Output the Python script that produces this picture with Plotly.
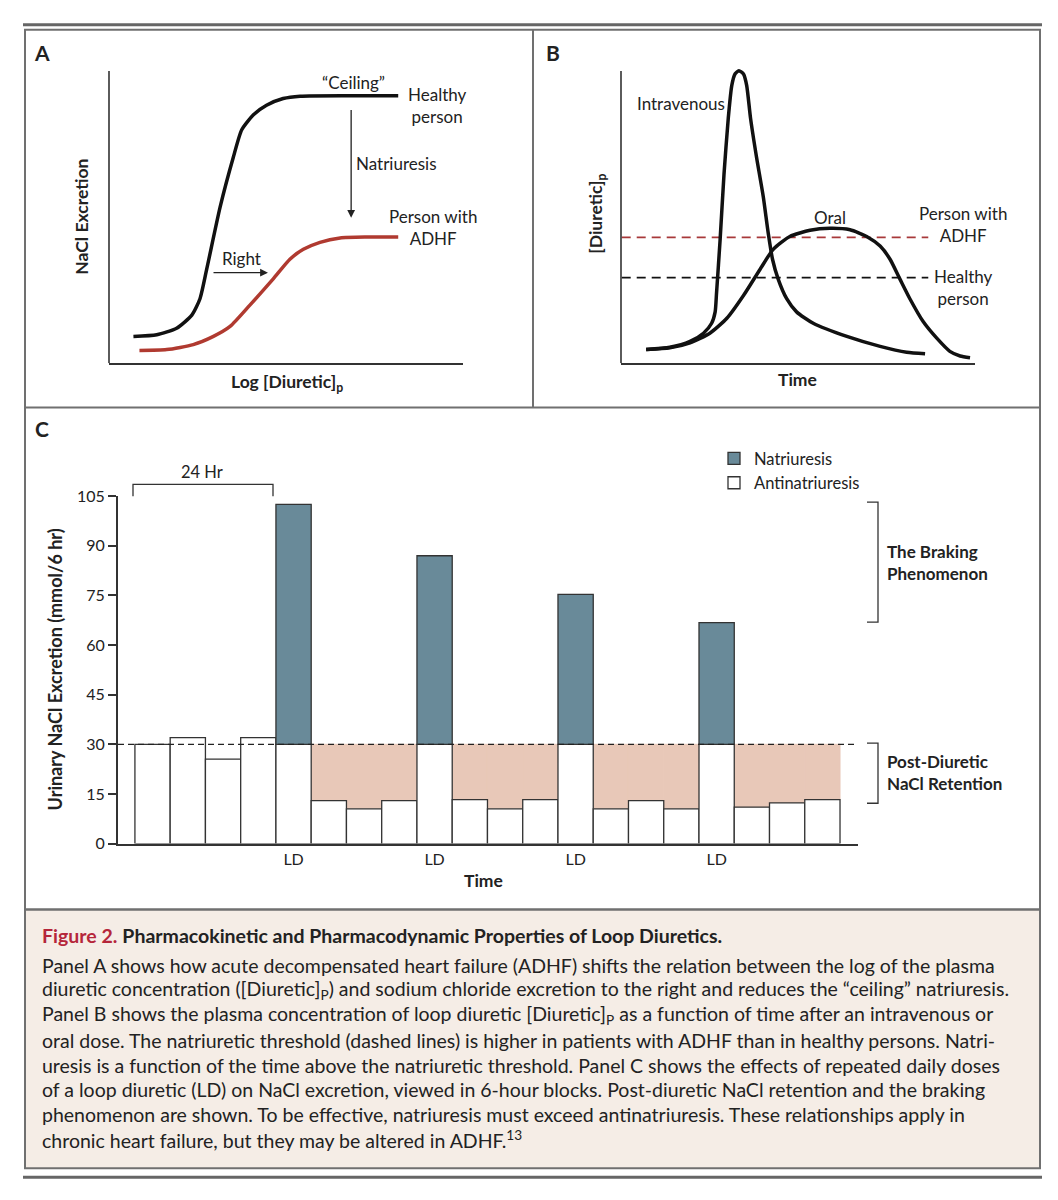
import plotly.graph_objects as go

W, H = 1058, 1200
FONT = "Lato"
TXT = "#222222"
GRID = "#707070"


def PX(x):
    return x / W


def PY(y):
    return 1 - y / H


# ---------------- Panel A data (arbitrary 0-100 units) ----------------
a_healthy_x = [6.9, 13.5, 19.1, 23.4, 25.7, 27.6, 31.4, 35.1, 37.5, 40.8, 44.5, 49.2, 54.0, 81.7]
a_healthy_y = [9.2, 9.8, 12.0, 16.5, 22.1, 32.2, 53.5, 70.4, 79.9, 85.0, 88.3, 90.6, 91.4, 91.5]
a_adhf_x = [8.6, 16.3, 23.8, 29.5, 34.2, 39.8, 46.4, 51.1, 54.9, 59.6, 65.3, 72.8, 81.7]
a_adhf_y = [4.4, 4.7, 6.4, 9.2, 12.6, 19.9, 28.9, 35.6, 39.0, 41.4, 42.9, 43.2, 43.2]

# ---------------- Panel B data ----------------
b_iv_x = [7.1, 13.8, 19.5, 23.3, 25.6, 26.6, 27.0, 28.0, 29.1, 30.3, 31.3, 32.2, 33.3, 34.6,
          35.5, 36.6, 38.3, 40.2, 41.6, 42.8, 44.4, 46.8, 49.6, 54.3, 63.8, 73.2, 80.7, 85.9]
b_iv_y = [4.7, 5.5, 7.5, 10.3, 13.7, 17.6, 24.3, 42.3, 64.7, 83.8, 95.1, 99.0, 100.1, 99.0,
          95.1, 83.8, 70.4, 56.9, 44.5, 35.6, 28.8, 22.1, 17.6, 13.7, 9.2, 5.8, 3.8, 3.3]
b_oral_x = [7.1, 13.8, 19.5, 25.1, 29.9, 34.6, 39.3, 43.0, 47.7, 53.4, 59.0, 64.7, 69.4, 73.2,
            76.0, 78.8, 81.6, 85.4, 89.2, 92.9, 95.8, 98.6]
b_oral_y = [4.7, 5.3, 7.0, 10.3, 15.4, 23.2, 32.2, 39.0, 43.4, 45.5, 46.2, 45.7, 43.4, 40.1,
            35.6, 28.8, 22.1, 14.2, 8.6, 4.1, 2.5, 1.9]
b_threshold_adhf = 43.1
b_threshold_healthy = 29.3
b_threshold_span = [0.2, 86.8]

# ---------------- Panel C data ----------------
c_excretion = [30, 32, 25.5, 32, 102.5, 13, 10.5, 13, 87, 13.3, 10.5, 13.3,
               75.3, 10.5, 13, 10.5, 66.8, 11, 12.3, 13.3]
c_ld_blocks = [4, 8, 12, 16]
c_threshold = 30
c_yticks = [0, 15, 30, 45, 60, 75, 90, 105]

blocks = list(range(len(c_excretion)))
first_ld = min(c_ld_blocks)
white_vals = [c_threshold if i in c_ld_blocks else v for i, v in enumerate(c_excretion)]
blue_vals = [v - c_threshold if i in c_ld_blocks else None for i, v in enumerate(c_excretion)]
salmon_vals = [(c_threshold - v) if (i > first_ld and i not in c_ld_blocks) else None
               for i, v in enumerate(c_excretion)]

BLUE = "#698a99"
SALMON = "#e8c8b8"
OUT = "#333333"

fig = go.Figure()

# Panel A curves
fig.add_trace(go.Scatter(x=a_healthy_x, y=a_healthy_y, mode="lines", xaxis="x", yaxis="y",
                         line=dict(color="#111111", width=3.5, shape="spline", smoothing=0.6),
                         showlegend=False, hoverinfo="skip"))
fig.add_trace(go.Scatter(x=a_adhf_x, y=a_adhf_y, mode="lines", xaxis="x", yaxis="y",
                         line=dict(color="#b03a30", width=3.5, shape="spline", smoothing=0.6),
                         showlegend=False, hoverinfo="skip"))

# Panel B thresholds and curves
fig.add_trace(go.Scatter(x=b_threshold_span, y=[b_threshold_adhf] * 2, mode="lines", xaxis="x2", yaxis="y2",
                         line=dict(color="#a8393a", width=1.6, dash="9px,6px"),
                         showlegend=False, hoverinfo="skip"))
fig.add_trace(go.Scatter(x=b_threshold_span, y=[b_threshold_healthy] * 2, mode="lines", xaxis="x2", yaxis="y2",
                         line=dict(color="#111111", width=1.8, dash="9px,6px"),
                         showlegend=False, hoverinfo="skip"))
fig.add_trace(go.Scatter(x=b_iv_x, y=b_iv_y, mode="lines", xaxis="x2", yaxis="y2",
                         line=dict(color="#111111", width=3.5, shape="spline", smoothing=0.6),
                         showlegend=False, hoverinfo="skip"))
fig.add_trace(go.Scatter(x=b_oral_x, y=b_oral_y, mode="lines", xaxis="x2", yaxis="y2",
                         line=dict(color="#111111", width=3.5, shape="spline", smoothing=0.6),
                         showlegend=False, hoverinfo="skip"))

# Panel C bars
fig.add_trace(go.Bar(x=blocks, y=salmon_vals, base=c_excretion, width=1, xaxis="x3", yaxis="y3",
                     marker=dict(color=SALMON, line=dict(color=SALMON, width=1)),
                     showlegend=False, hoverinfo="skip"))
fig.add_trace(go.Bar(x=blocks, y=white_vals, base=0, width=1, xaxis="x3", yaxis="y3",
                     name="Antinatriuresis", legendrank=2,
                     marker=dict(color="white", line=dict(color=OUT, width=1.3))))
fig.add_trace(go.Bar(x=blocks, y=blue_vals, base=c_threshold, width=1, xaxis="x3", yaxis="y3",
                     name="Natriuresis", legendrank=1,
                     marker=dict(color=BLUE, line=dict(color=OUT, width=1.3))))

shapes = []
# frame & rules
shapes.append(dict(type="line", xref="paper", yref="paper", x0=PX(23), x1=PX(1042), y0=PY(15), y1=PY(15),
                   line=dict(color="#666666", width=3)))
shapes.append(dict(type="line", xref="paper", yref="paper", x0=PX(23), x1=PX(1042), y0=PY(1186), y1=PY(1186),
                   line=dict(color="#666666", width=3)))
shapes.append(dict(type="rect", xref="paper", yref="paper", x0=PX(25), x1=PX(1040), y0=PY(914), y1=PY(1177),
                   fillcolor="#f5ede6", line=dict(color=GRID, width=2), layer="below"))
shapes.append(dict(type="rect", xref="paper", yref="paper", x0=PX(25), x1=PX(1040), y0=PY(20), y1=PY(914),
                   line=dict(color=GRID, width=2)))
shapes.append(dict(type="line", xref="paper", yref="paper", x0=PX(533), x1=PX(533), y0=PY(20), y1=PY(404),
                   line=dict(color=GRID, width=2)))
shapes.append(dict(type="line", xref="paper", yref="paper", x0=PX(25), x1=PX(1040), y0=PY(404), y1=PY(404),
                   line=dict(color=GRID, width=2)))
# y axis lines of panels A and B (up to 100)
for xr, yr in (("x domain", "y"), ("x2 domain", "y2")):
    shapes.append(dict(type="line", xref=xr, yref=yr, x0=0, x1=0, y0=0, y1=100,
                       line=dict(color=OUT, width=1.6)))
# threshold line panel C
shapes.append(dict(type="line", xref="x3 domain", yref="y3", x0=0, x1=1, y0=c_threshold, y1=c_threshold,
                   line=dict(color="#222222", width=1.2, dash="6px,4px"), layer="above"))
# 24 Hr bracket
shapes.append(dict(type="path", xref="paper", yref="paper",
                   path=f"M {PX(133)},{PY(494)} L {PX(133)},{PY(482)} L {PX(273)},{PY(482)} L {PX(273)},{PY(494)}",
                   line=dict(color="#333333", width=1.3)))
# Braking bracket
shapes.append(dict(type="path", xref="paper", yref="paper",
                   path=f"M {PX(867)},{PY(500)} L {PX(878)},{PY(500)} L {PX(878)},{PY(622)} L {PX(867)},{PY(622)}",
                   line=dict(color="#333333", width=1.3)))
# Post-diuretic bracket
shapes.append(dict(type="path", xref="paper", yref="paper",
                   path=f"M {PX(867)},{PY(745)} L {PX(878)},{PY(745)} L {PX(878)},{PY(806)} L {PX(867)},{PY(806)}",
                   line=dict(color="#333333", width=1.3)))

ann = []


def T(text, x, y, size=16, bold=False, xanchor="center", yanchor="middle", angle=0, color=TXT, align="center"):
    if bold:
        text = f"<b>{text}</b>"
    ann.append(dict(text=text, x=PX(x), y=PY(y), xref="paper", yref="paper", showarrow=False,
                    xanchor=xanchor, yanchor=yanchor, textangle=angle, align=align,
                    font=dict(family=FONT, size=size, color=color)))


# Panel A text
T("A", 42, 43, size=21, bold=True)
T("“Ceiling”", 353, 74, size=17)
T("Healthy<br>person", 437, 97, size=17)
T("Natriuresis", 354, 156, size=17, xanchor="left")
T("Person with<br>ADHF", 433, 221, size=17)
T("Right", 241, 253, size=17)
T("NaCl Excretion", 82, 210, size=17.5, bold=True, angle=-90)
T("Log [Diuretic]<sub>p</sub>", 287, 379, size=17.5, bold=True)
# arrows in panel A (data coords)
ann.append(dict(x=68.4, y=49.8, ax=68.4, ay=87.2, xref="x", yref="y", axref="x", ayref="y",
                showarrow=True, arrowhead=2, arrowsize=1.2, arrowwidth=1.3, arrowcolor="#222", text=""))
ann.append(dict(x=44.9, y=31.0, ax=29.1, ay=31.0, xref="x", yref="y", axref="x", ayref="y",
                showarrow=True, arrowhead=2, arrowsize=1.2, arrowwidth=1.3, arrowcolor="#222", text=""))

# Panel B text
T("B", 553, 43, size=21, bold=True)
T("Intravenous", 681, 95, size=17)
T("Oral", 830, 211, size=17)
T("Person with<br>ADHF", 963, 218, size=17)
T("Healthy<br>person", 963, 282, size=17)
T("[Diuretic]<sub>p</sub>", 597, 207, size=17.5, bold=True, angle=-90)
T("Time", 797, 375, size=17.5, bold=True)

# Panel C text
T("C", 42, 425, size=21, bold=True)
T("24 Hr", 202, 469, size=16.5)
T("The Braking<br>Phenomenon", 885, 561, size=17, bold=True, xanchor="left", align="left")
T("Post-Diuretic<br>NaCl Retention", 885, 775, size=17, bold=True, xanchor="left", align="left")
T("Time", 483, 885, size=17.5, bold=True)
T("Urinary NaCl Excretion (mmol/6 hr)", 55, 670, size=18, bold=True, angle=-90)

# Caption
cap = [
    "<span style='color:#b5263a'><b>Figure 2.</b></span> <b>Pharmacokinetic and Pharmacodynamic Properties of Loop Diuretics.</b>",
    "Panel A shows how acute decompensated heart failure (ADHF) shifts the relation between the log of the plasma",
    "diuretic concentration ([Diuretic]<sub>P</sub>) and sodium chloride excretion to the right and reduces the “ceiling” natriuresis.",
    "Panel B shows the plasma concentration of loop diuretic [Diuretic]<sub>P</sub> as a function of time after an intravenous or",
    "oral dose. The natriuretic threshold (dashed lines) is higher in patients with ADHF than in healthy persons. Natri-",
    "uresis is a function of the time above the natriuretic threshold. Panel C shows the effects of repeated daily doses",
    "of a loop diuretic (LD) on NaCl excretion, viewed in 6-hour blocks. Post-diuretic NaCl retention and the braking",
    "phenomenon are shown. To be effective, natriuresis must exceed antinatriuresis. These relationships apply in",
    "chronic heart failure, but they may be altered in ADHF.<sup>13</sup>",
]
cap_y = [940, 971, 996, 1021, 1047, 1072, 1097, 1122, 1148]
for line, yy in zip(cap, cap_y):
    T(line, 40, yy, size=19.5, xanchor="left", align="left", color="#222222")

noax = dict(showgrid=False, zeroline=False, showticklabels=False, ticks="")

fig.update_layout(
    width=W, height=H, margin=dict(l=0, r=0, t=0, b=0),
    paper_bgcolor="white", plot_bgcolor="rgba(0,0,0,0)",
    font=dict(family=FONT, color=TXT),
    barmode="overlay",
    shapes=shapes, annotations=ann,
    xaxis=dict(domain=[PX(109), PX(463)], range=[0, 100], showline=True, linecolor=OUT, linewidth=1.6,
               anchor="y", **noax),
    yaxis=dict(domain=[PY(359), PY(359 - 105 * 2.97)], range=[0, 105], showline=False, anchor="x", **noax),
    xaxis2=dict(domain=[PX(621), PX(975)], range=[0, 100], showline=True, linecolor=OUT, linewidth=1.6,
                anchor="y2", **noax),
    yaxis2=dict(domain=[PY(359), PY(359 - 105 * 2.97)], range=[0, 105], showline=False, anchor="x2", **noax),
    xaxis3=dict(domain=[PX(118), PX(858)], range=[-0.98, 20.01], showline=True, linecolor=OUT, linewidth=2,
                anchor="y3", showgrid=False, zeroline=False, ticks="", tickvals=c_ld_blocks,
                ticktext=["LD"] * len(c_ld_blocks), tickfont=dict(family=FONT, size=16, color=TXT)),
    yaxis3=dict(domain=[PY(847), PY(494)], range=[0, 105], showline=True, linecolor=OUT, linewidth=2,
                anchor="x3", showgrid=False, zeroline=False, ticks="outside", ticklen=8, tickwidth=1.5,
                tickcolor=OUT, tickvals=c_yticks, tickfont=dict(family=FONT, size=16, color=TXT)),
    legend=dict(x=PX(714), y=PY(438), xanchor="left", yanchor="top", bgcolor="rgba(0,0,0,0)",
                font=dict(family=FONT, size=16.5, color=TXT), traceorder="normal"),
    showlegend=True,
)

post = (
    "var gd=document.getElementById('{plot_id}');"
    "gd.style.position='absolute';gd.style.top='0px';gd.style.left='0px';"
    "document.body.style.margin='0';document.body.style.overflow='hidden';"
    "document.documentElement.style.overflow='hidden';"
)
fig.write_html("out.html", config={"displayModeBar": False}, post_script=post)
